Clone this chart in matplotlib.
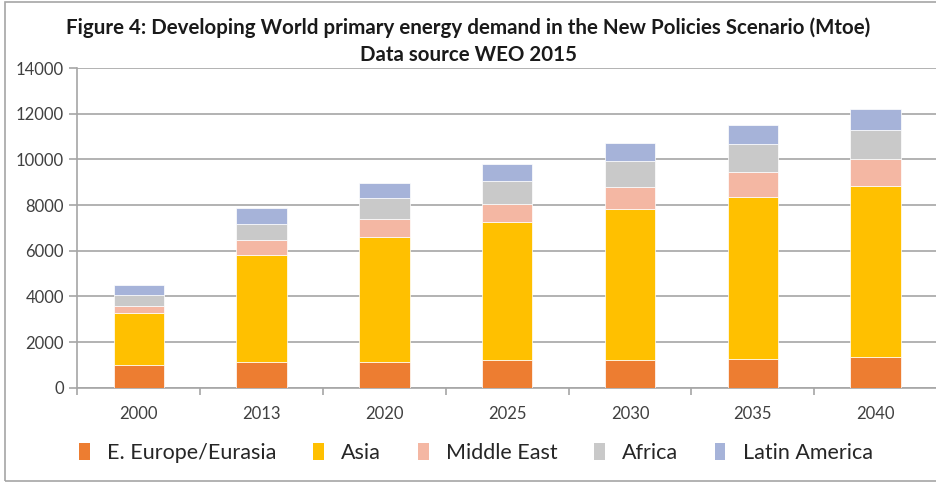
import numpy as np
import matplotlib.pyplot as plt
from matplotlib.patches import Rectangle, Patch

# Dados (Mtoe)
anos = ['2000', '2013', '2020', '2025', '2030', '2035', '2040']
europa = [1000, 1140, 1150, 1210, 1210, 1270, 1340]
asia = [2270, 4690, 5460, 6030, 6610, 7080, 7480]
oriente_medio = [320, 640, 790, 830, 980, 1120, 1180]
africa = [490, 720, 910, 1000, 1140, 1190, 1310]
america_latina = [430, 670, 660, 730, 790, 860, 920]

series = [europa, asia, oriente_medio, africa, america_latina]
nomes = ['E. Europe/Eurasia', 'Asia', 'Middle East', 'Africa', 'Latin America']
cores = ['#ED7D31', '#FFC000', '#F4B7A3', '#C9C9C9', '#A6B3D9']

plt.rcParams['font.family'] = ['Lato', 'DejaVu Sans']

fig = plt.figure(figsize=(9.37, 4.83), dpi=100)
ax = fig.add_axes([0.0825, 0.197, 0.9175, 0.662])

x = np.arange(len(anos))
base = np.zeros(len(anos))
for valores, cor in zip(series, cores):
    ax.bar(x, valores, width=0.41, bottom=base, color=cor, edgecolor='white', linewidth=0.5, zorder=3)
    base += np.array(valores)

# Configurações do gráfico
ax.set_xlim(-0.5, len(anos) - 0.5)
ax.set_ylim(0, 14000)
ax.set_yticks(np.arange(0, 14001, 2000))
ax.grid(axis='y', color='#A6A6A6', lw=1.2, zorder=0)
ax.set_xticks(x)
ax.set_xticklabels(anos, fontsize=12, color='#404040')
ax.set_xticks(np.arange(-0.5, len(anos)), minor=True)
ax.tick_params(axis='x', which='major', length=0, pad=13)
ax.tick_params(axis='x', which='minor', length=5, color='#A6A6A6', width=1.2, direction='out')
ax.tick_params(axis='y', length=6, color='#A6A6A6', width=1.2, labelsize=12, labelcolor='#404040')
for lado in ['top', 'right']:
    ax.spines[lado].set_visible(False)
ax.spines['left'].set_color('#A6A6A6')
ax.spines['bottom'].set_color('#A6A6A6')
ax.spines['left'].set_linewidth(1.2)
ax.spines['bottom'].set_linewidth(1.2)

fig.text(0.5, 0.942, 'Figure 4: Developing World primary energy demand in the New Policies Scenario (Mtoe)',
         ha='center', va='center', fontsize=14.8, fontweight='bold', color='#1a1a1a')
fig.text(0.5, 0.886, 'Data source WEO 2015', ha='center', va='center',
         fontsize=14.8, fontweight='bold', color='#1a1a1a')

handles = [Patch(facecolor=c, edgecolor='none') for c in cores]
fig.legend(handles, nomes, loc='center', bbox_to_anchor=(0.508, 0.062), ncol=5, frameon=False,
           fontsize=15.5, handlelength=0.5, handleheight=0.8, handletextpad=0.8, columnspacing=1.7,
           labelcolor='#262626')

# Borda externa
fig.patches.append(Rectangle((0.005, 0.005), 1.2, 0.99, transform=fig.transFigure,
                             fill=False, edgecolor='#A6A6A6', lw=1.2))

fig.savefig('out.png', dpi=100)
